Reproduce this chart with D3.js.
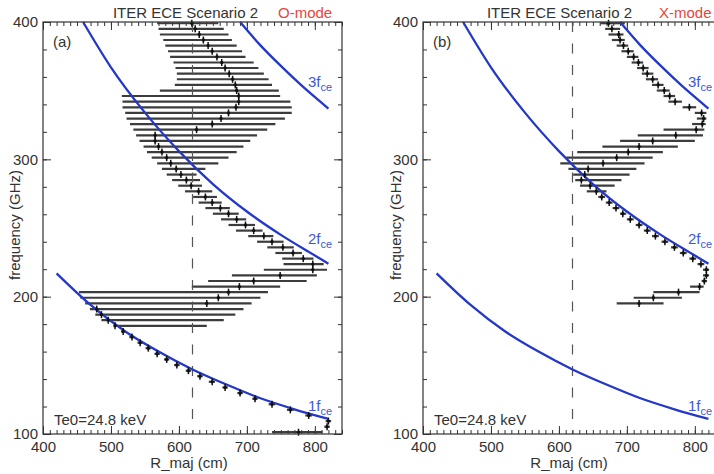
<!DOCTYPE html>
<html>
<head>
<meta charset="utf-8">
<script src="https://cdn.jsdelivr.net/npm/d3@7"></script>
<style>
  html, body { margin: 0; padding: 0; background: #fff; }
  svg { display: block; font-family: "Liberation Sans", Arial, Helvetica, sans-serif; }
</style>
</head>
<body>
<svg id="chart" width="714" height="474"></svg>
<script>
// ECE channel frequencies (GHz), top channel first
const freq = [399.1, 395.0, 390.9, 386.9, 382.8, 378.7, 374.6, 370.5, 366.5, 362.4,
  358.3, 354.2, 350.1, 346.1, 342.0, 337.9, 333.8, 329.7, 325.7, 321.6,
  317.5, 313.4, 309.3, 305.3, 301.2, 297.1, 293.0, 288.9, 284.9, 280.8,
  276.7, 272.6, 268.5, 264.5, 260.4, 256.3, 252.2, 248.1, 244.1, 240.0,
  235.9, 231.8, 227.7, 223.7, 219.6, 215.5, 211.4, 207.3, 203.3, 199.2,
  195.1, 191.0, 186.9, 182.9, 178.8, 174.7, 170.6, 166.5, 162.5, 158.4,
  154.3, 150.2, 146.1, 142.1, 138.0, 133.9, 129.8, 125.7, 121.7, 117.6,
  113.5, 109.4, 105.3, 101.3];

// O-mode: emission position (cm) and its spread, one entry per channel
const oLo = [568, 570, 572, 577, 580, 584, 587, 592, 595, 597,
  597, 594, 572, 516, 517, 517, 521, 523, 528, 533,
  537, 542, 548, 553, 560, 568, 575, 582, 590, 599,
  609, 621, 629, 639, 650, 662, 673, 684, 702, 715,
  730, 742, 752, 754, 725, 678, 643, 619, 453, 455,
  462, 469, 477, 486, 504, 515, 527, 539, 551, 564,
  578, 593, 610, 627, 644, 664, 686, 708, 732, 759,
  786, 816, 814, 737];
const oCen = [619, 624, 630, 636, 643, 649, 656, 663, 668, 674,
  679, 683, 685, 688, 688, 684, 673, 662, 649, 626,
  565, 565, 570, 575, 582, 588, 596, 603, 611, 618,
  629, 639, 649, 661, 673, 685, 698, 710, 725, 737,
  753, 768, 783, 797, 797, 749, 710, 689, 673, 658,
  641, 479, 486, 496, 506, 518, 531, 543, 555, 568,
  582, 597, 614, 631, 649, 668, 690, 712, 737, 764,
  791, 820, 818, 776];
const oHi = [658, 666, 673, 678, 685, 693, 698, 710, 717, 725,
  732, 737, 747, 749, 764, 766, 766, 756, 742, 730,
  715, 705, 695, 685, 673, 658, 639, 626, 631, 634,
  649, 656, 663, 675, 688, 699, 712, 723, 739, 754,
  769, 781, 798, 813, 818, 803, 788, 749, 731, 720,
  707, 695, 683, 666, 641, 521, 534, 547, 559, 572,
  586, 601, 618, 635, 653, 672, 694, 716, 742, 769,
  796, 824, 822, 811];

// X-mode: only the upper 51 channels are shown
const xLo = [661, 668, 673, 678, 685, 692, 700, 707, 715, 722,
  728, 737, 744, 754, 761, 782, 800, 803, 796, 754,
  716, 690, 664, 627, 611, 602, 614, 621, 624, 631,
  641, 658, 669, 679, 690, 700, 713, 725, 737, 751,
  765, 778, 792, 804, 812, 812, 810, 793, 739, 710, 685];
const xCen = [673, 678, 688, 690, 695, 702, 710, 717, 724, 730,
  738, 746, 755, 763, 771, 792, 810, 813, 811, 802,
  772, 738, 718, 702, 685, 665, 643, 638, 633, 646,
  655, 663, 674, 684, 694, 705, 718, 730, 742, 756,
  770, 783, 797, 809, 817, 817, 814, 807, 776, 739, 718];
const xHi = [697, 690, 695, 697, 702, 710, 717, 724, 732, 739,
  746, 754, 763, 771, 781, 802, 817, 817, 816, 814,
  812, 800, 775, 753, 738, 726, 714, 704, 692, 682,
  670, 668, 679, 689, 699, 710, 723, 735, 747, 761,
  775, 788, 802, 814, 821, 821, 818, 813, 807, 781, 754];

// cyclotron harmonics (R in cm, f in GHz)
const harm1R = [420, 470, 520, 570, 620, 670, 720, 770, 820];
const harm1F = [217, 194, 175, 160, 147, 136, 126, 118, 111];
const harm2R = [459, 500, 550, 600, 650, 700, 750, 800, 820];
const harm2F = [400, 367, 334, 306, 282, 262, 245, 230, 224];
const harm3R = [690, 720, 750, 780, 820];
const harm3F = [400, 383, 368, 354, 337];

const rMajor = 620;
const xTicks = [400, 500, 600, 700, 800];
const yTicks = [100, 200, 300, 400];
const plotTitle = "ITER ECE Scenario 2";
const te0Label = "Te0=24.8 keV";

const svg = d3.select("#chart");
const plotTop = 22, plotBottom = 434;
const ink = "#333", blue = "#2338c8", blueText = "#3b58d6";

const yScale = d3.scaleLinear().domain([100, 400]).range([plotBottom, plotTop]);

const panels = [
  { left: 43, right: 342, lo: oLo, cen: oCen, hi: oHi, tag: "(a)", mode: "O-mode", titleEnd: 258, modeStart: 278, yLabelX: 20 },
  { left: 423, right: 722, lo: xLo, cen: xCen, hi: xHi, tag: "(b)", mode: "X-mode", titleEnd: 632, modeStart: 659, yLabelX: 401 }
];

const harmonics = [
  { n: "1", R: harm1R, F: harm1F, labelF: 117 },
  { n: "2", R: harm2R, F: harm2F, labelF: 238 },
  { n: "3", R: harm3R, F: harm3F, labelF: 353 }
];

// style an axis group: drop the domain line, set tick look
const styleAxis = (g, labels) => {
  g.select(".domain").remove();
  g.selectAll(".tick line").attr("stroke", ink).attr("stroke-width", 1);
  if (labels) g.selectAll(".tick text").attr("fill", ink).attr("font-size", 15).attr("font-family", null);
  else g.selectAll(".tick text").remove();
};

panels.forEach(p => {
  const x = d3.scaleLinear().domain([400, 840]).range([p.left, p.right]);
  const g = svg.append("g");

  // inward ticks on all four sides, minor first
  const addAxes = (size, xVals, yVals, labels) => {
    g.append("g").attr("transform", `translate(0,${plotBottom})`)
      .call(d3.axisBottom(x).tickValues(xVals).tickSize(-size).tickPadding(7)).call(s => styleAxis(s, labels));
    g.append("g").attr("transform", `translate(0,${plotTop})`)
      .call(d3.axisTop(x).tickValues(xVals).tickSize(-size)).call(s => styleAxis(s, false));
    g.append("g").attr("transform", `translate(${p.left},0)`)
      .call(d3.axisLeft(yScale).tickValues(yVals).tickSize(-size).tickPadding(5)).call(s => styleAxis(s, labels));
    g.append("g").attr("transform", `translate(${p.right},0)`)
      .call(d3.axisRight(yScale).tickValues(yVals).tickSize(-size)).call(s => styleAxis(s, false));
  };
  addAxes(4, x.ticks(44), yScale.ticks(15), false);
  addAxes(8, xTicks, yTicks, true);

  // channel rows for this panel
  const rows = p.cen.map((c, i) => ({ f: freq[i], lo: p.lo[i], c, hi: p.hi[i] }));

  g.append("g").selectAll("line").data(rows).join("line")
    .attr("x1", d => x(d.lo)).attr("x2", d => x(d.hi))
    .attr("y1", d => yScale(d.f)).attr("y2", d => yScale(d.f))
    .attr("stroke", "#3c3c3c").attr("stroke-width", 2.2);

  // major radius, dashed
  g.append("line")
    .attr("x1", x(rMajor)).attr("x2", x(rMajor))
    .attr("y1", plotTop).attr("y2", plotBottom)
    .attr("stroke", "#555").attr("stroke-width", 1.2)
    .attr("stroke-dasharray", "10,11.5");

  // harmonic curves
  const line = d3.line().x(d => x(d[0])).y(d => yScale(d[1])).curve(d3.curveMonotoneX);
  harmonics.forEach(h => {
    g.append("path")
      .datum(h.R.map((r, i) => [r, h.F[i]]))
      .attr("fill", "none").attr("stroke", blue).attr("stroke-width", 2.3)
      .attr("d", line);
    const t = g.append("text").attr("x", x(790)).attr("y", yScale(h.labelF))
      .attr("fill", blueText).attr("font-size", 15);
    t.append("tspan").text(h.n + "f");
    t.append("tspan").text("ce").attr("font-size", 11).attr("dy", 4);
  });

  // centre markers
  const marks = g.append("g").selectAll("g").data(rows).join("g")
    .attr("transform", d => `translate(${x(d.c)},${yScale(d.f)})`);
  marks.append("line").attr("y1", -3.5).attr("y2", 3.5).attr("stroke", "#111").attr("stroke-width", 1.5);
  marks.append("circle").attr("r", 1.7).attr("fill", "#111");

  // frame
  g.append("rect")
    .attr("x", p.left).attr("y", plotTop)
    .attr("width", p.right - p.left).attr("height", plotBottom - plotTop)
    .attr("fill", "none").attr("stroke", ink).attr("stroke-width", 1.2);

  // texts
  g.append("text").attr("x", p.titleEnd).attr("y", 18).attr("text-anchor", "end")
    .attr("fill", ink).attr("font-size", 15).text(plotTitle);
  g.append("text").attr("x", p.modeStart).attr("y", 18)
    .attr("fill", "#e4473e").attr("font-size", 15).text(p.mode);
  g.append("text").attr("x", p.left + 10).attr("y", 47)
    .attr("fill", ink).attr("font-size", 15).text(p.tag);
  g.append("text").attr("x", p.left + 11).attr("y", 425)
    .attr("fill", ink).attr("font-size", 15).text(te0Label);
  g.append("text").attr("x", x(615)).attr("y", 468).attr("text-anchor", "middle")
    .attr("fill", ink).attr("font-size", 15).text("R_maj (cm)");
  g.append("text").attr("transform", `translate(${p.yLabelX},225) rotate(-90)`)
    .attr("text-anchor", "middle").attr("fill", ink).attr("font-size", 15).text("frequency (GHz)");
});
</script>
</body>
</html>
